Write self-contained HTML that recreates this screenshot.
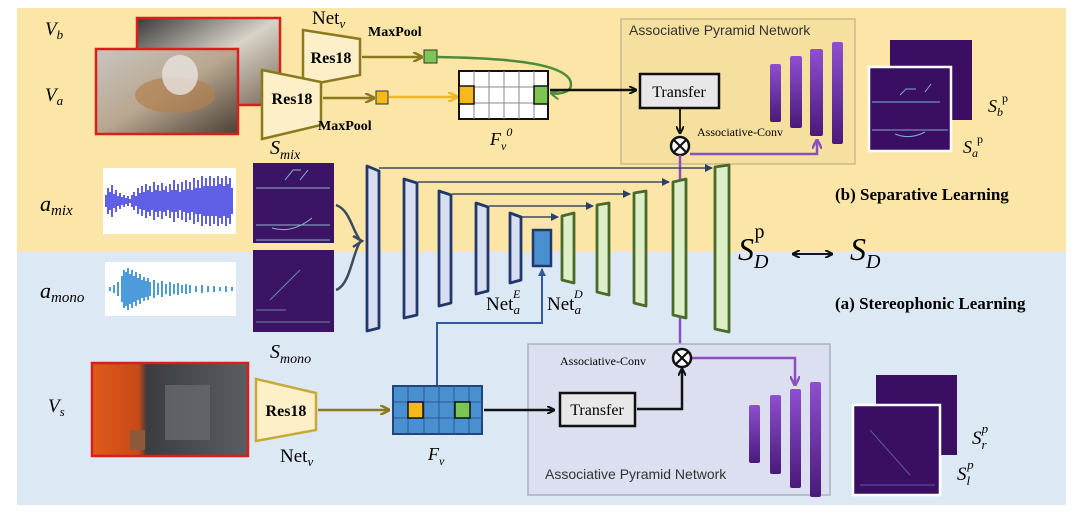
<!DOCTYPE html>
<html><head><meta charset="utf-8"><style>
html,body{margin:0;padding:0;background:#fff;}
svg{display:block;}
.s{font-family:"Liberation Serif",serif;}
.a{font-family:"Liberation Sans",sans-serif;}
</style></head><body>
<svg width="1080" height="513" viewBox="0 0 1080 513" xmlns="http://www.w3.org/2000/svg">
<defs>
<marker id="ab" markerWidth="8" markerHeight="8" refX="7" refY="4" orient="auto" markerUnits="userSpaceOnUse"><path d="M0,0 L8,4 L0,8" fill="none" stroke="#111" stroke-width="2"/></marker>
<marker id="ao" markerWidth="10" markerHeight="10" refX="9" refY="5" orient="auto" markerUnits="userSpaceOnUse"><path d="M0,0 L10,5 L0,10" fill="none" stroke="#8a7a1e" stroke-width="2.5"/></marker>
<marker id="ay" markerWidth="10" markerHeight="10" refX="9" refY="5" orient="auto" markerUnits="userSpaceOnUse"><path d="M0,0 L10,5 L0,10" fill="none" stroke="#f0b820" stroke-width="2.5"/></marker>
<marker id="ap" markerWidth="10" markerHeight="10" refX="9" refY="5" orient="auto" markerUnits="userSpaceOnUse"><path d="M0,0 L10,5 L0,10" fill="none" stroke="#8a4fc0" stroke-width="2.5"/></marker>
<marker id="an" markerWidth="8" markerHeight="8" refX="7" refY="4" orient="auto" markerUnits="userSpaceOnUse"><path d="M0,0 L8,4 L0,8 z" fill="#2b3f6b"/></marker>
<marker id="au" markerWidth="8" markerHeight="8" refX="7" refY="4" orient="auto" markerUnits="userSpaceOnUse"><path d="M0,0 L8,4 L0,8 z" fill="#2c5a9a"/></marker>
<marker id="ag" markerWidth="10" markerHeight="10" refX="9" refY="5" orient="auto" markerUnits="userSpaceOnUse"><path d="M0,0 L10,5 L0,10" fill="none" stroke="#4f8a3a" stroke-width="2"/></marker>
<linearGradient id="pb" x1="0" y1="0" x2="0" y2="1"><stop offset="0" stop-color="#8e4fd0"/><stop offset="1" stop-color="#4a1a7a"/></linearGradient>
<linearGradient id="ph1" x1="0" y1="0" x2="1" y2="1"><stop offset="0" stop-color="#3a3a3a"/><stop offset="0.5" stop-color="#d8d2c8"/><stop offset="1" stop-color="#7a6a5a"/></linearGradient>
<linearGradient id="ph2" x1="0" y1="0" x2="1" y2="1"><stop offset="0" stop-color="#c8c6c0"/><stop offset="0.5" stop-color="#b8a690"/><stop offset="1" stop-color="#4a4036"/></linearGradient>
<linearGradient id="ph3" x1="0" y1="0" x2="1" y2="0"><stop offset="0" stop-color="#e05a1a"/><stop offset="0.3" stop-color="#c84a18"/><stop offset="0.35" stop-color="#3a3c40"/><stop offset="1" stop-color="#5a5e62"/></linearGradient>
</defs>
<rect x="17" y="8" width="1049" height="244" fill="#fbe6a8"/>
<rect x="17" y="252" width="1049" height="253" fill="#dde8f5"/>

<rect x="137" y="18" width="143" height="87" fill="url(#ph1)" stroke="#d8201a" stroke-width="2.5"/>
<rect x="96" y="49" width="142" height="85" fill="url(#ph2)" stroke="#d8201a" stroke-width="2.5"/>
<ellipse cx="175" cy="95" rx="40" ry="18" fill="#b08050" opacity="0.7"/>
<ellipse cx="180" cy="75" rx="18" ry="20" fill="#e8e4e0" opacity="0.8"/>
<text x="45" y="35" class="s" font-size="19" font-style="italic">V<tspan font-size="13" dy="4">b</tspan></text>
<text x="45" y="101" class="s" font-size="19" font-style="italic">V<tspan font-size="13" dy="4">a</tspan></text>

<polygon points="303,30 360,39 360,75 303,86" fill="#fdf0c8" stroke="#8a7a1e" stroke-width="2.5"/>
<text x="331" y="63" class="s" font-size="16" font-weight="bold" text-anchor="middle">Res18</text>
<text x="312" y="24" class="s" font-size="19">Net<tspan font-size="13" dy="4" font-style="italic">v</tspan></text>
<text x="368" y="36" class="s" font-size="14" font-weight="bold">MaxPool</text>
<polygon points="262,70 321,82 321,125 262,139" fill="#fdf0c8" stroke="#8a7a1e" stroke-width="2.5"/>
<text x="292" y="104" class="s" font-size="16" font-weight="bold" text-anchor="middle">Res18</text>
<text x="318" y="130" class="s" font-size="14" font-weight="bold">MaxPool</text>

<line x1="362" y1="57" x2="422" y2="57" stroke="#8a7a1e" stroke-width="2.5" marker-end="url(#ao)"/>
<rect x="424" y="50" width="13" height="13" fill="#7cc552" stroke="#333" stroke-width="1"/>
<line x1="323" y1="98" x2="374" y2="98" stroke="#8a7a1e" stroke-width="2.5" marker-end="url(#ao)"/>
<rect x="376" y="91" width="12" height="13" fill="#f6b81a" stroke="#333" stroke-width="1"/>
<line x1="389" y1="97" x2="457" y2="97" stroke="#f0b820" stroke-width="2.5" marker-end="url(#ay)"/>

<g stroke="#888" stroke-width="1">
<rect x="459" y="71" width="89" height="48" fill="#fff" stroke="#111" stroke-width="2"/>
<line x1="474" y1="71" x2="474" y2="119"/><line x1="489" y1="71" x2="489" y2="119"/><line x1="504" y1="71" x2="504" y2="119"/><line x1="519" y1="71" x2="519" y2="119"/><line x1="534" y1="71" x2="534" y2="119"/>
<line x1="459" y1="87" x2="548" y2="87"/><line x1="459" y1="103" x2="548" y2="103"/>
</g>
<rect x="459" y="86" width="15" height="18" fill="#f6b81a" stroke="#111" stroke-width="1.5"/>
<rect x="534" y="86" width="14" height="18" fill="#7cc552" stroke="#111" stroke-width="1.5"/>
<text x="490" y="145" class="s" font-size="18" font-style="italic">F<tspan font-size="12" dy="5">v</tspan><tspan font-size="12" dy="-14">0</tspan></text>
<path d="M437,57 C500,58 560,62 570,80 C575,92 560,95 551,93" fill="none" stroke="#4f8a3a" stroke-width="2.5" marker-end="url(#ag)"/>

<rect x="621" y="19" width="234" height="145" fill="#f6e0a0" stroke="#c9b88a" stroke-width="1.5"/>
<text x="629" y="35" class="a" font-size="14" fill="#333">Associative Pyramid Network</text>
<line x1="550" y1="90" x2="636" y2="90" stroke="#111" stroke-width="2.5" marker-end="url(#ab)"/>
<rect x="640" y="74" width="79" height="34" fill="#e8e8e8" stroke="#111" stroke-width="2.5"/>
<text x="679" y="97" class="s" font-size="16" text-anchor="middle">Transfer</text>
<line x1="680" y1="109" x2="680" y2="133" stroke="#111" stroke-width="1.8" marker-end="url(#ab)"/>
<rect x="770" y="64" width="11" height="58" rx="2" fill="url(#pb)"/>
<rect x="790" y="56" width="12" height="72" rx="2" fill="url(#pb)"/>
<rect x="810" y="49" width="13" height="87" rx="2" fill="url(#pb)"/>
<rect x="832" y="42" width="11" height="102" rx="2" fill="url(#pb)"/>
<text x="697" y="136" class="s" font-size="12">Associative-Conv</text>
<polyline points="690,154 817,154 817,140" fill="none" stroke="#8a4fc0" stroke-width="2.5" marker-end="url(#ap)"/>
<circle cx="680" cy="146" r="9" fill="#fff" stroke="#111" stroke-width="2.5"/>
<path d="M674,140 L686,152 M686,140 L674,152" stroke="#111" stroke-width="2.2"/>
<line x1="680" y1="155" x2="680" y2="180" stroke="#8a4fc0" stroke-width="2.5"/>

<rect x="890" y="40" width="82" height="80" fill="#3a0e62"/>
<rect x="869" y="67" width="82" height="84" fill="#3a0e62" stroke="#fff" stroke-width="2.5"/>
<path d="M872,102 H940 M872,130 H948 M900,95 l6,-6 h10 M925,92 l6,-8 M895,134 q15,6 30,-2" stroke="#7ab0d0" stroke-width="1" fill="none"/>
<text x="988" y="112" class="s" font-size="18" font-style="italic">S<tspan font-size="12" dy="4">b</tspan><tspan font-size="12" dy="-14" dx="-1" font-style="normal">p</tspan></text>
<text x="963" y="153" class="s" font-size="18" font-style="italic">S<tspan font-size="12" dy="4">a</tspan><tspan font-size="12" dy="-14" dx="-1" font-style="normal">p</tspan></text>
<text x="835" y="200" class="s" font-size="17" font-weight="bold">(b) Separative Learning</text>

<rect x="103" y="168" width="133" height="66" fill="#fff"/>
<path d="M106,195v12 M108,188v26 M110,192v18 M112,185v32 M114,194v14 M116,190v22 M118,196v10 M120,193v16 M122,197v8 M124,195v12 M126,198v6 M128,196v10 M130,199v4 M132,195v12 M134,192v18 M136,196v10 M138,188v26 M140,193v16 M142,186v30 M144,192v18 M146,184v34 M148,190v22 M150,186v30 M152,192v18 M154,182v38 M156,190v22 M158,185v32 M160,191v20 M162,183v36 M164,190v22 M166,186v30 M168,192v18 M170,184v34 M172,190v22 M174,180v42 M176,190v22 M178,184v34 M180,192v18 M182,182v38 M184,190v22 M186,180v42 M188,189v24 M190,182v38 M192,190v22 M194,178v46 M196,188v26 M198,180v42 M200,188v26 M202,176v50 M204,186v30 M206,178v46 M208,186v30 M210,176v50 M212,186v30 M214,178v46 M216,186v30 M218,176v50 M220,184v34 M222,178v46 M224,186v30 M226,176v50 M228,184v34 M230,178v46 M232,188v26" stroke="#2a2adf" stroke-width="1.5" fill="none"/>
<rect x="105" y="262" width="131" height="54" fill="#fff"/>
<path d="M110,287v4 M114,285v8 M118,282v14 M122,276v26 M124,270v38 M126,272v34 M128,268v42 M130,274v30 M132,270v38 M134,276v26 M136,272v34 M138,278v22 M140,274v30 M142,280v18 M144,277v24 M146,281v16 M148,278v22 M150,282v14 M154,280v18 M158,283v12 M162,281v16 M166,284v10 M170,282v14 M174,284v10 M178,283v12 M182,285v8 M186,284v10 M190,285v8 M196,286v6 M202,285v8 M208,286v6 M214,286v6 M220,287v4 M226,286v6 M232,287v4" stroke="#3a90d8" stroke-width="1.8" fill="none"/>
<text x="40" y="211" class="s" font-size="22" font-style="italic">a<tspan font-size="15" dy="4">mix</tspan></text>
<text x="40" y="298" class="s" font-size="22" font-style="italic">a<tspan font-size="15" dy="4">mono</tspan></text>

<rect x="253" y="163" width="81" height="80" fill="#3c1466"/>
<path d="M256,188 H330 M256,225 H330 M256,240 H330 M285,180 l8,-10 h8 M300,180 l8,-10 M272,228 q20,6 40,-10" stroke="#8ab8c8" stroke-width="1" fill="none"/>
<rect x="253" y="250" width="81" height="82" fill="#3c1466"/>
<path d="M256,322 H330 M270,300 l30,-30 M256,310 h30" stroke="#7aa0b8" stroke-width="1" fill="none" opacity="0.8"/>
<text x="270" y="154" class="s" font-size="20" font-style="italic">S<tspan font-size="14" dy="5">mix</tspan></text>
<text x="270" y="358" class="s" font-size="20" font-style="italic">S<tspan font-size="14" dy="5">mono</tspan></text>
<path d="M336,205 C350,210 352,230 360,240 M336,290 C350,285 352,255 360,242" stroke="#3d4a5e" stroke-width="2.5" fill="none"/>
<path d="M353,236 L362,241 L353,247" stroke="#3d4a5e" stroke-width="2.5" fill="none"/>

<g stroke="#3d4a5e" stroke-width="1.6">
<line x1="379" y1="168" x2="712" y2="168" marker-end="url(#an)"/>
<line x1="418" y1="182" x2="669" y2="182" marker-end="url(#an)"/>
<line x1="452" y1="194" x2="630" y2="194" marker-end="url(#an)"/>
<line x1="489" y1="206" x2="593" y2="206" marker-end="url(#an)"/>
<line x1="522" y1="217" x2="558" y2="217" marker-end="url(#an)"/>
</g>
<g fill="#d8def2" stroke="#22386a" stroke-width="2.8" stroke-linejoin="round">
<polygon points="367,166 379,171 379,328 367,331"/>
<polygon points="404,179 417,183 417,315 404,318"/>
<polygon points="439,191 451,195 451,303 439,306"/>
<polygon points="476,203 488,207 488,291 476,294"/>
<polygon points="510,213 521,217 521,280 510,283"/>
</g>
<rect x="533" y="230" width="18" height="36" fill="#4a8fd0" stroke="#22386a" stroke-width="2.5"/>
<g fill="#dcefc8" stroke="#4a6a2a" stroke-width="2.8" stroke-linejoin="round">
<polygon points="562,216 574,213 574,283 562,280"/>
<polygon points="597,205 609,203 609,295 597,292"/>
<polygon points="634,193 646,191 646,306 634,303"/>
<polygon points="673,182 686,179 686,318 673,315"/>
<polygon points="715,167 729,165 729,332 715,329"/>
</g>
<text x="486" y="310" class="s" font-size="19">Net<tspan font-size="13" dy="4" font-style="italic">a</tspan><tspan font-size="12" dy="-16" dx="-7" font-style="italic">E</tspan></text>
<text x="547" y="310" class="s" font-size="19">Net<tspan font-size="13" dy="4" font-style="italic">a</tspan><tspan font-size="12" dy="-16" dx="-7" font-style="italic">D</tspan></text>
<polyline points="437,385 437,323 542,323 542,269" fill="none" stroke="#2c5a9a" stroke-width="2" marker-end="url(#au)"/>
<line x1="680" y1="318" x2="680" y2="347" stroke="#8a4fc0" stroke-width="2.5"/>

<text x="738" y="260" class="s" font-size="32" font-style="italic">S<tspan font-size="20" dy="8">D</tspan><tspan font-size="20" dy="-30" dx="-14" font-style="normal">p</tspan></text>
<text x="850" y="260" class="s" font-size="32" font-style="italic">S<tspan font-size="20" dy="8">D</tspan></text>
<line x1="793" y1="254" x2="832" y2="254" stroke="#111" stroke-width="1.8" marker-end="url(#ab)"/>
<line x1="832" y1="254" x2="793" y2="254" stroke="#111" stroke-width="1.8" marker-end="url(#ab)"/>
<text x="835" y="309" class="s" font-size="17" font-weight="bold">(a) Stereophonic Learning</text>

<rect x="92" y="363" width="156" height="93" fill="url(#ph3)" stroke="#d8201a" stroke-width="2.5"/>
<rect x="165" y="385" width="45" height="55" fill="#6a6e72" opacity="0.7"/>
<rect x="130" y="430" width="15" height="20" fill="#8a5a3a"/>
<text x="48" y="412" class="s" font-size="19" font-style="italic">V<tspan font-size="13" dy="4">s</tspan></text>
<polygon points="256,379 316,393 316,430 256,441" fill="#fdf0c8" stroke="#c8a838" stroke-width="2.5"/>
<text x="286" y="416" class="s" font-size="16" font-weight="bold" text-anchor="middle">Res18</text>
<text x="280" y="462" class="s" font-size="19">Net<tspan font-size="13" dy="4" font-style="italic">v</tspan></text>
<line x1="318" y1="410" x2="389" y2="410" stroke="#8a7a1e" stroke-width="2.5" marker-end="url(#ao)"/>
<g stroke="#2a5a90" stroke-width="1">
<rect x="393" y="386" width="89" height="48" fill="#4a90d0" stroke="#23467a" stroke-width="2"/>
<line x1="408" y1="386" x2="408" y2="434"/><line x1="424" y1="386" x2="424" y2="434"/><line x1="439" y1="386" x2="439" y2="434"/><line x1="454" y1="386" x2="454" y2="434"/><line x1="469" y1="386" x2="469" y2="434"/>
<line x1="393" y1="402" x2="482" y2="402"/><line x1="393" y1="418" x2="482" y2="418"/>
</g>
<rect x="408" y="402" width="15" height="16" fill="#f6b81a" stroke="#111" stroke-width="1.5"/>
<rect x="455" y="402" width="15" height="16" fill="#7cc552" stroke="#111" stroke-width="1.5"/>
<text x="428" y="460" class="s" font-size="18" font-style="italic">F<tspan font-size="12" dy="5">v</tspan></text>

<rect x="528" y="344" width="302" height="151" fill="#dcdff0" stroke="#aab0c4" stroke-width="1.5"/>
<text x="560" y="365" class="s" font-size="12">Associative-Conv</text>
<text x="545" y="479" class="a" font-size="14" fill="#333">Associative Pyramid Network</text>
<line x1="484" y1="410" x2="554" y2="410" stroke="#111" stroke-width="2.5" marker-end="url(#ab)"/>
<rect x="560" y="393" width="75" height="33" fill="#e8e8e8" stroke="#111" stroke-width="2.5"/>
<text x="597" y="415" class="s" font-size="16" text-anchor="middle">Transfer</text>
<polyline points="637,409 682,409 682,369" fill="none" stroke="#111" stroke-width="2.5" marker-end="url(#ab)"/>
<polyline points="690,358 795,358 795,385" fill="none" stroke="#8a4fc0" stroke-width="2.5" marker-end="url(#ap)"/>
<circle cx="682" cy="358" r="9" fill="#fff" stroke="#111" stroke-width="2.5"/>
<path d="M676,352 L688,364 M688,352 L676,364" stroke="#111" stroke-width="2.2"/>
<rect x="749" y="405" width="11" height="58" rx="2" fill="url(#pb)"/>
<rect x="770" y="395" width="11" height="79" rx="2" fill="url(#pb)"/>
<rect x="790" y="389" width="11" height="99" rx="2" fill="url(#pb)"/>
<rect x="810" y="382" width="11" height="115" rx="2" fill="url(#pb)"/>

<rect x="876" y="375" width="81" height="80" fill="#3a0e62"/>
<rect x="853" y="405" width="87" height="90" fill="#3a0e62" stroke="#fff" stroke-width="2.5"/>
<path d="M870,430 l40,45 M860,485 H935" stroke="#6a80b0" stroke-width="1" fill="none" opacity="0.7"/>
<text x="972" y="444" class="s" font-size="19" font-style="italic">S<tspan font-size="13" dy="5">r</tspan><tspan font-size="13" dy="-16" dx="-5">p</tspan></text>
<text x="957" y="480" class="s" font-size="19" font-style="italic">S<tspan font-size="13" dy="5">l</tspan><tspan font-size="13" dy="-16" dx="-3">p</tspan></text>
</svg>
</body></html>
